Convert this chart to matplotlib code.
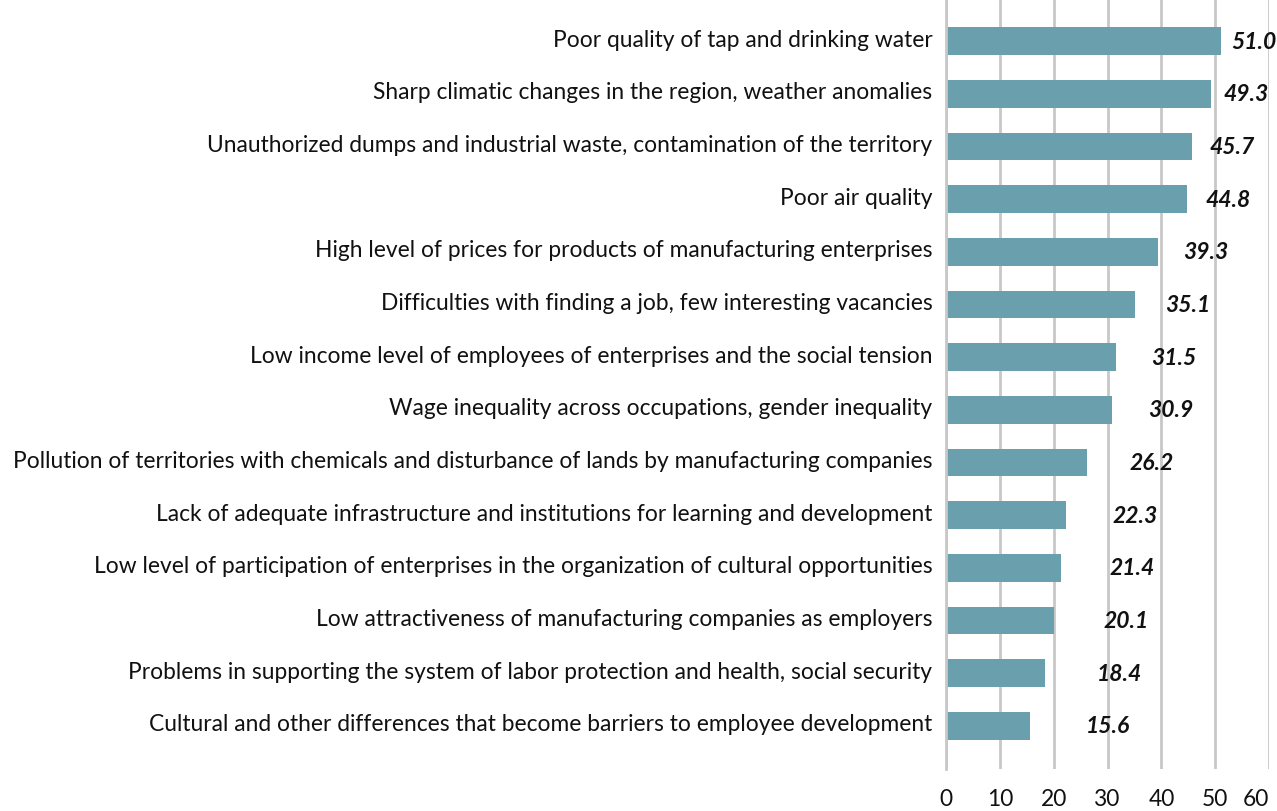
import matplotlib.pyplot as plt
import matplotlib.transforms as mtransforms
import numpy as np

categories = [
    "Poor quality of tap and drinking water",
    "Sharp climatic changes in the region, weather anomalies",
    "Unauthorized dumps and industrial waste, contamination of the territory",
    "Poor air quality",
    "High level of prices for products of manufacturing enterprises",
    "Difficulties with finding a job, few interesting vacancies",
    "Low income level of employees of enterprises and the social tension",
    "Wage inequality across occupations, gender inequality",
    "Pollution of territories with chemicals and disturbance of lands by manufacturing companies",
    "Lack of adequate infrastructure and institutions for learning and development",
    "Low level of participation of enterprises in the organization of cultural opportunities",
    "Low attractiveness of manufacturing companies as employers",
    "Problems in supporting the system of labor protection and health, social security",
    "Cultural and other differences that become barriers to employee development",
]
values = [51.0, 49.3, 45.7, 44.8, 39.3, 35.1, 31.5, 30.9, 26.2, 22.3, 21.4, 20.1, 18.4, 15.6]
xticks = [0, 10, 20, 30, 40, 50, 60]

plt.rcParams['font.family'] = ['Lato', 'DejaVu Sans']

fig = plt.figure(figsize=(12.77, 8.12), dpi=100)
ax = fig.add_axes([0.741, 0.0517, 0.2527, 0.9483])

y = np.arange(len(values))
ax.barh(y, values, height=0.525, color="#6aa0ad", zorder=2)

# value labels (offset grows with value, as in the source)
for yi, v in zip(y, values):
    ax.text(v * 0.763 + 18.2, yi, f"{v:.1f}", ha="center", va="center",
            fontsize=16.5, fontweight="bold", fontstyle="italic", color="#111111")

ax.set_ylim(len(values) - 1 + 0.82, -0.8)
ax.set_xlim(0, 60)
ax.set_yticks(y)
ax.set_yticklabels(categories, fontsize=16.4, color="#111111")
ax.set_xticks(xticks)
ax.set_xticklabels([str(t) for t in xticks], fontsize=16.4, color="#111111")
ax.tick_params(axis="y", length=0, pad=10)
ax.tick_params(axis="x", length=0, pad=14)
ax.get_xticklabels()[-1].set_horizontalalignment("right")

# category labels sit a little above the bar centres
shift = mtransforms.ScaledTranslation(0, 4 / 100, fig.dpi_scale_trans)
for lab in ax.get_yticklabels():
    lab.set_transform(lab.get_transform() + shift)

ax.xaxis.grid(True, color="#c8c8c8", linewidth=2, zorder=0)
ax.set_axisbelow(True)
for s in ["top", "right", "bottom"]:
    ax.spines[s].set_visible(False)
ax.spines["left"].set_color("#c8c8c8")
ax.spines["left"].set_linewidth(2)

fig.savefig("out.png", dpi=100)
